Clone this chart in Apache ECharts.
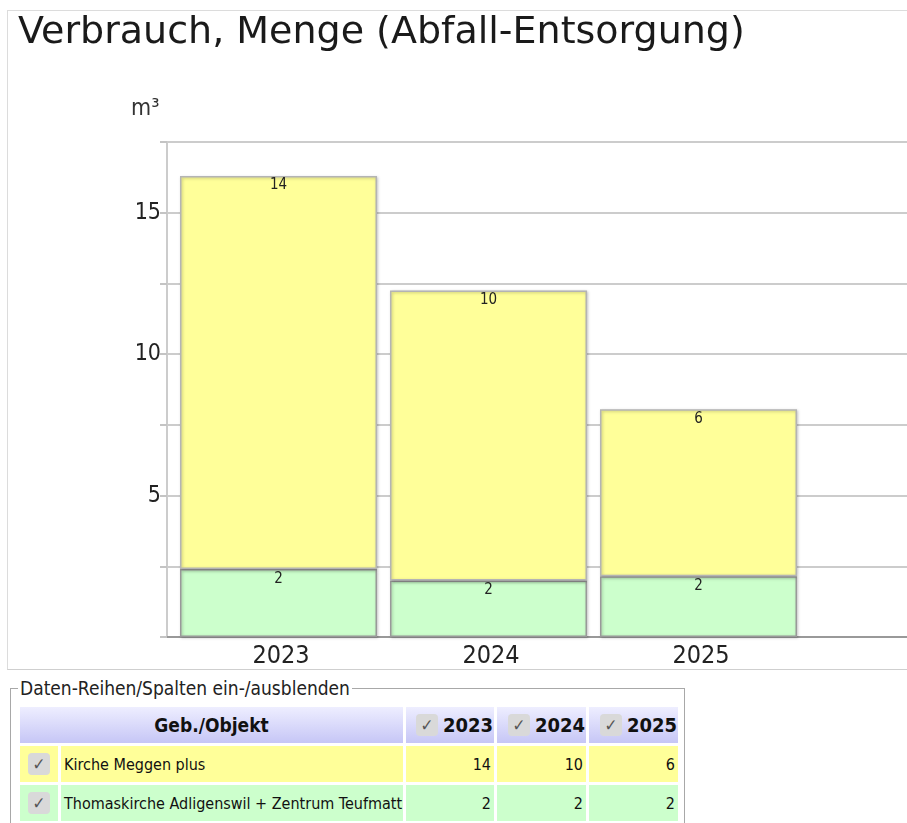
<!DOCTYPE html>
<html>
<head>
<meta charset="utf-8">
<title>Verbrauch, Menge (Abfall-Entsorgung)</title>
<script src="https://cdn.jsdelivr.net/npm/echarts@6/dist/echarts.min.js"></script>
<style>
  html, body {
    margin: 0;
    padding: 0;
    width: 907px;
    height: 823px;
    overflow: hidden;
    background: #fff;
    font-family: 'DejaVu Sans Condensed', 'DejaVu Sans', sans-serif;
  }
  #box {
    position: absolute;
    left: 7px;
    top: 10px;
    width: 1000px;
    height: 658px;
    border-top: 1px solid #dcdcdc;
    border-left: 1px solid #dcdcdc;
    border-bottom: 1px solid #cfcfcf;
  }
  /* breiter als das Fenster: die leere vierte Spalte wird abgeschnitten */
  #chart {
    position: absolute;
    left: 0;
    top: 0;
    width: 1010px;
    height: 670px;
  }
  #frame {
    position: absolute;
    left: 10px;
    top: 688px;
    width: 673px;
    height: 200px;
    border: 1px solid #a8a8a8;
  }
  #frame-label {
    position: absolute;
    left: 18px;
    top: 676px;
    padding: 0 2px;
    background: #fff;
    font-size: 19px;
    line-height: 24px;
    color: #222;
  }
  #tbl {
    position: absolute;
    left: 17px;
    top: 704px;
    border-collapse: separate;
    border-spacing: 3px;
    table-layout: fixed;
  }
  #tbl td, #tbl th {
    padding: 0;
    height: 36px;
    color: #111;
  }
  #tbl th {
    background: linear-gradient(to bottom, #eeeeff, #c6c6f6);
    font-weight: bold;
    font-size: 19px;
  }
  #tbl th.yr {
    text-align: right;
    padding-right: 1px;
    font-size: 20px;
  }
  #tbl td.name {
    font-size: 16px;
    padding-left: 3px;
  }
  #tbl td.val {
    font-size: 16px;
    text-align: right;
    padding-right: 3px;
  }
  #tbl td.cbx {
    text-align: center;
  }
  .cb {
    display: inline-block;
    width: 22px;
    height: 22px;
    line-height: 22px;
    border-radius: 4px;
    background: #d9d9d9;
    color: #555;
    font-size: 17px;
    font-weight: normal;
    text-align: center;
    vertical-align: middle;
  }
  th .cb {
    margin-right: 5px;
    vertical-align: 1px;
  }
</style>
</head>
<body>
<div id="box"></div>
<div id="chart"></div>
<div id="frame"></div>
<div id="frame-label">Daten-Reihen/Spalten ein-/ausblenden</div>
<table id="tbl"></table>

<script>
// Daten
var years = ['2023', '2024', '2025']
var objekte = ['Kirche Meggen plus', 'Thomaskirche Adligenswil + Zentrum Teufmatt']
var kircheMeggen = [13.9, 10.25, 5.9]
var thomaskirche = [2.4, 2.0, 2.15]
var farben = ['#ffff99', '#ccffcc']
var einheit = 'm³'

var font = 'DejaVu Sans Condensed'

var myChart = echarts.init(document.getElementById('chart'))

// gemeinsames Aussehen der Balken
function barStyle (color, border) {
  return {
    color: color,
    borderColor: border,
    borderWidth: 1.5,
    shadowColor: 'rgba(0,0,0,0.25)',
    shadowBlur: 3,
    shadowOffsetX: 1,
    shadowOffsetY: 1
  }
}

var valueLabel = {
  show: true,
  position: 'insideTop',
  distance: 2,
  fontFamily: font,
  fontSize: 15,
  color: '#222',
  formatter: function (p) {
    return Math.round(p.value)
  }
}

var option = {
  animation: false,
  title: [
    {
      text: 'Verbrauch, Menge (Abfall-Entsorgung)',
      left: 13,
      top: 9,
      textStyle: {
        fontFamily: 'DejaVu Sans',
        fontWeight: 'normal',
        fontSize: 38,
        color: '#1a1a1a'
      }
    },
    {
      text: einheit,
      left: 126,
      top: 93,
      textStyle: {
        fontFamily: font,
        fontWeight: 'normal',
        fontSize: 23,
        color: '#333'
      }
    }
  ],
  grid: {
    left: 167,
    top: 142,
    height: 495,
    // vier Spalten a 210px
    width: 840,
    outerBoundsMode: 'none'
  },
  xAxis: {
    type: 'category',
    data: years.concat(['']),
    axisLine: {
      lineStyle: { color: '#999', width: 2 }
    },
    axisTick: { show: false },
    axisLabel: {
      fontFamily: font,
      fontSize: 25,
      color: '#222',
      margin: 7,
      padding: [0, 0, 0, 18]
    }
  },
  yAxis: {
    type: 'value',
    min: 0,
    max: 17.5,
    interval: 2.5,
    axisLine: {
      show: true,
      lineStyle: { color: '#cccccc', width: 2 }
    },
    axisTick: {
      show: true,
      length: 7,
      lineStyle: { color: '#c4c4c4', width: 2 }
    },
    axisLabel: {
      fontFamily: font,
      fontSize: 23,
      color: '#222',
      margin: 6,
      formatter: function (v) {
        return (v > 0 && v % 5 === 0) ? v : ''
      }
    },
    splitLine: {
      lineStyle: { color: '#cccccc', width: 2 }
    }
  },
  series: [
    {
      // Platzhalter fuer den Abstand links vom Balken
      name: 'gap',
      type: 'bar',
      stack: 'gap',
      barWidth: 13,
      barGap: '0%',
      silent: true,
      itemStyle: { color: 'rgba(0,0,0,0)' },
      data: [0, 0, 0, 0]
    },
    {
      name: objekte[1],
      type: 'bar',
      stack: 'total',
      barWidth: 197,
      barGap: '0%',
      itemStyle: barStyle(farben[1], '#999'),
      label: valueLabel,
      data: thomaskirche
    },
    {
      name: objekte[0],
      type: 'bar',
      stack: 'total',
      barWidth: 197,
      barGap: '0%',
      itemStyle: barStyle(farben[0], '#b4b4b4'),
      label: valueLabel,
      data: kircheMeggen
    }
  ]
}

myChart.setOption(option)

// Tabelle unter dem Diagramm
var rows = [kircheMeggen, thomaskirche]
var html = '<colgroup><col style="width:38px"><col style="width:342px">' +
  '<col style="width:88px"><col style="width:89px"><col style="width:89px"></colgroup>'
html += '<tr><th colspan="2">Geb./Objekt</th>'
years.forEach(function (y) {
  html += '<th class="yr"><span class="cb">&#10003;</span>' + y + '</th>'
})
html += '</tr>'
rows.forEach(function (r, i) {
  var bg = ' style="background:' + farben[i] + '"'
  html += '<tr><td class="cbx"' + bg + '><span class="cb">&#10003;</span></td>'
  html += '<td class="name"' + bg + '>' + objekte[i] + '</td>'
  r.forEach(function (v) {
    html += '<td class="val"' + bg + '>' + Math.round(v) + '</td>'
  })
  html += '</tr>'
})
document.getElementById('tbl').innerHTML = html
</script>
</body>
</html>
